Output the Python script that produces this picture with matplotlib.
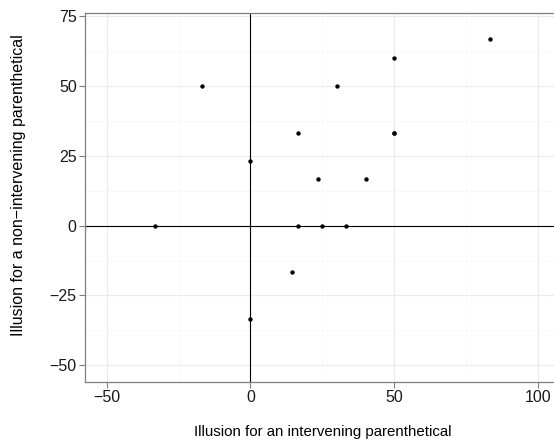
import matplotlib
matplotlib.use("Agg")
import matplotlib.pyplot as plt
from matplotlib.ticker import MultipleLocator

plt.rcParams["font.family"] = ["Liberation Sans", "DejaVu Sans"]

# Illusion scores per participant (percent)
intervening = [-33.33, -16.67, 0, 0, 14.29, 16.67, 16.67, 23.5, 25, 30,
               33.33, 40, 50, 50, 50, 83.33]
non_intervening = [0, 50, 23.08, -33.33, -16.67, 33.33, 0, 16.67, 0, 50,
                   0, 16.67, 60, 33.33, 33.33, 66.67]

x_major = [-50, 0, 50, 100]
y_major = [-50, -25, 0, 25, 50, 75]

fig = plt.figure(figsize=(5.54, 4.42), dpi=100)
ax = fig.add_axes([0.1534, 0.1357, 0.857, 0.834])

ax.set_xlim(-57.5, 107.5)
ax.set_ylim(-56, 76)

ax.xaxis.set_minor_locator(MultipleLocator(25))
ax.yaxis.set_minor_locator(MultipleLocator(12.5))
ax.set_xticks(x_major)
ax.set_yticks(y_major)
ax.set_xticklabels([f"{v}".replace("-", "\u2212") for v in x_major])
ax.set_yticklabels([f"{v}".replace("-", "\u2212") for v in y_major])

ax.grid(which="major", color="#EBEBEB", linewidth=0.8)
ax.grid(which="minor", color="#F7F7F7", linewidth=0.6)
ax.set_axisbelow(True)

ax.axhline(0, color="black", linewidth=0.8, zorder=2)
ax.axvline(0, color="black", linewidth=0.8, zorder=2)

ax.scatter(intervening, non_intervening, s=10, color="black", zorder=3,
           linewidths=0)

for sp in ax.spines.values():
    sp.set_color("#7F7F7F")
    sp.set_linewidth(0.9)

ax.tick_params(which="major", length=4, width=0.8, color="#7F7F7F",
               labelsize=11.5, labelcolor="#1A1A1A", pad=2)
ax.tick_params(which="minor", length=0)

ax.set_xlabel("Illusion for an intervening parenthetical", fontsize=10.8,
              va="center")
ax.set_ylabel("Illusion for a non\u2212intervening parenthetical",
              fontsize=11.5, va="center")
ax.xaxis.set_label_coords(0.5004, -0.1356)
ax.yaxis.set_label_coords(-0.141, 0.534)

fig.savefig("out.png", dpi=100)
